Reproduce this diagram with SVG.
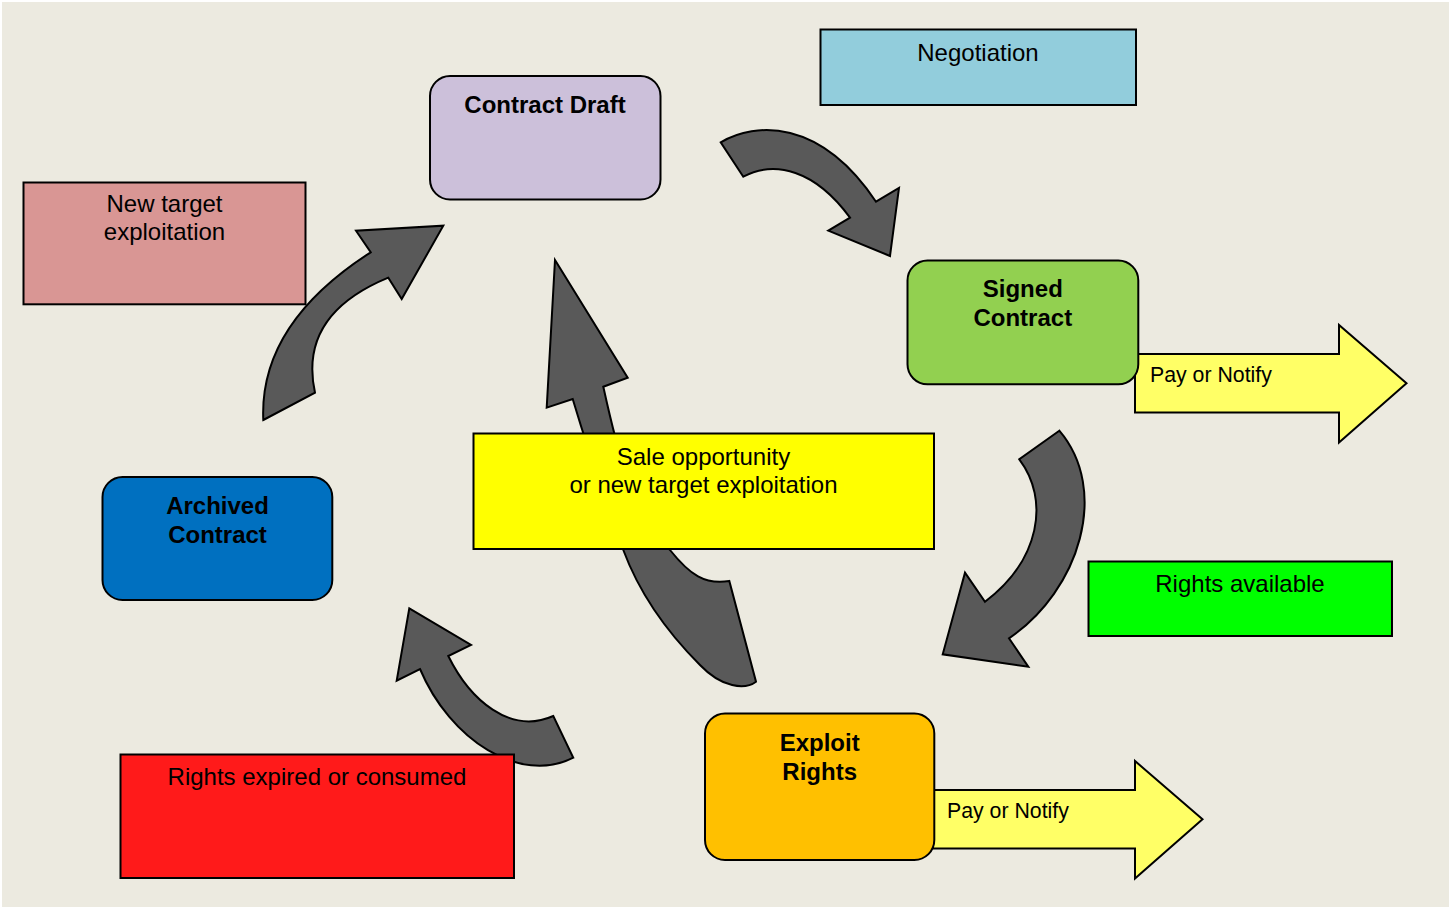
<svg xmlns="http://www.w3.org/2000/svg" width="1451" height="909" viewBox="0 0 1451 909">
<style>
.bg{fill:#ECEAE0}
.box{stroke:#000;stroke-width:2}
.arr{fill:#595959;stroke:#000;stroke-width:2;stroke-linejoin:miter}
.ya{fill:#FFFF66;stroke:#000;stroke-width:2}
text{font-family:"Liberation Sans",Arial,sans-serif;font-size:24px;fill:#000}
.c{text-anchor:middle}
.b{font-weight:bold}
.s{font-size:21.3px}
</style>
<rect x="0" y="0" width="1451" height="909" fill="#FFFFFF"/>
<rect class="bg" x="2" y="2" width="1447" height="905"/>
<g id="connectors">
<path class="arr" d="M720.7,142.3 C755,122 820,118 876,201.7 L899,188 L890,256 L828.3,230.7 L850,217.7 C815,170 775,160 743.3,176.7 Z"/>
<path class="arr" d="M263.3,420 L315,392.7 Q298,315 388.3,277.7 L401.7,299 L443.3,225.7 L356,230.7 L370.7,252.3 Q259,324 263.3,420 Z"/>
<path class="arr" d="M1059.3,430.7 L1019.3,459.3 C1050,500 1040,560 985,601.7 L965,572.7 L942.7,654.3 L1028.3,666.7 L1009,638.3 C1080,590 1110,490 1059.3,430.7 Z"/>
<path class="arr" d="M409.3,608.3 L471,645 L448.3,656 C470,700 510,735 553.3,716 L573.3,757.7 C520,785 450,740 420,669 L396.7,680.7 Z"/>
<path class="arr" d="M555,260 L627.7,377.7 L603.3,386.7 C615,440 630,510 670,550 C690,575 705,585 729.3,581 L756,681.7 C745,690 722,688 700,665 C670,635 640,595 623.3,550 C605,500 585,440 572.7,399 L546.7,407.7 Z"/>
</g>
<g id="pay-notify-1">
<path class="ya" d="M1135,354 L1339,354 L1339,325 L1406.5,383.3 L1339,442.5 L1339,412.5 L1135,412.5 Z"/>
<text class="s" x="1150" y="382">Pay or Notify</text>
</g>
<g id="pay-notify-2">
<path class="ya" d="M933,790 L1135,790 L1135,761 L1202.5,819.3 L1135,878.5 L1135,848.5 L933,848.5 Z"/>
<text class="s" x="947" y="818">Pay or Notify</text>
</g>
<g id="contract-draft">
<rect class="box" x="430" y="76" width="230.5" height="123.5" rx="20" fill="#CCC0DA"/>
<text class="c b" x="545" y="112.7">Contract Draft</text>
</g>
<g id="negotiation">
<rect class="box" x="820.5" y="29.5" width="315.5" height="75.5" fill="#92CDDC"/>
<text class="c" x="978" y="61">Negotiation</text>
</g>
<g id="new-target">
<rect class="box" x="23.5" y="182.5" width="282" height="121.8" fill="#D99694"/>
<text class="c" x="164.5" y="212.3">New target</text>
<text class="c" x="164.5" y="240">exploitation</text>
</g>
<g id="signed-contract">
<rect class="box" x="907.5" y="260.5" width="230.8" height="123.8" rx="20" fill="#92D050"/>
<text class="c b" x="1022.8" y="296.7">Signed</text>
<text class="c b" x="1022.8" y="325.7">Contract</text>
</g>
<g id="sale-opportunity">
<rect class="box" x="473.5" y="433.5" width="460.5" height="115.5" fill="#FFFF00"/>
<text class="c" x="703.5" y="465">Sale opportunity</text>
<text class="c" x="703.5" y="493">or new target exploitation</text>
</g>
<g id="archived-contract">
<rect class="box" x="102.5" y="477" width="229.8" height="123" rx="20" fill="#0070C0"/>
<text class="c b" x="217.5" y="514">Archived</text>
<text class="c b" x="217.5" y="542.7">Contract</text>
</g>
<g id="rights-available">
<rect class="box" x="1088.5" y="561.5" width="303.5" height="74.5" fill="#00FF00"/>
<text class="c" x="1240" y="592">Rights available</text>
</g>
<g id="rights-expired">
<rect class="box" x="120.5" y="754.5" width="393.5" height="123.5" fill="#FF1A1A"/>
<text class="c" x="317" y="785">Rights expired or consumed</text>
</g>
<g id="exploit-rights">
<rect class="box" x="705" y="713.5" width="229.3" height="146.5" rx="20" fill="#FFC000"/>
<text class="c b" x="819.7" y="750.7">Exploit</text>
<text class="c b" x="819.7" y="779.5">Rights</text>
</g>
</svg>
